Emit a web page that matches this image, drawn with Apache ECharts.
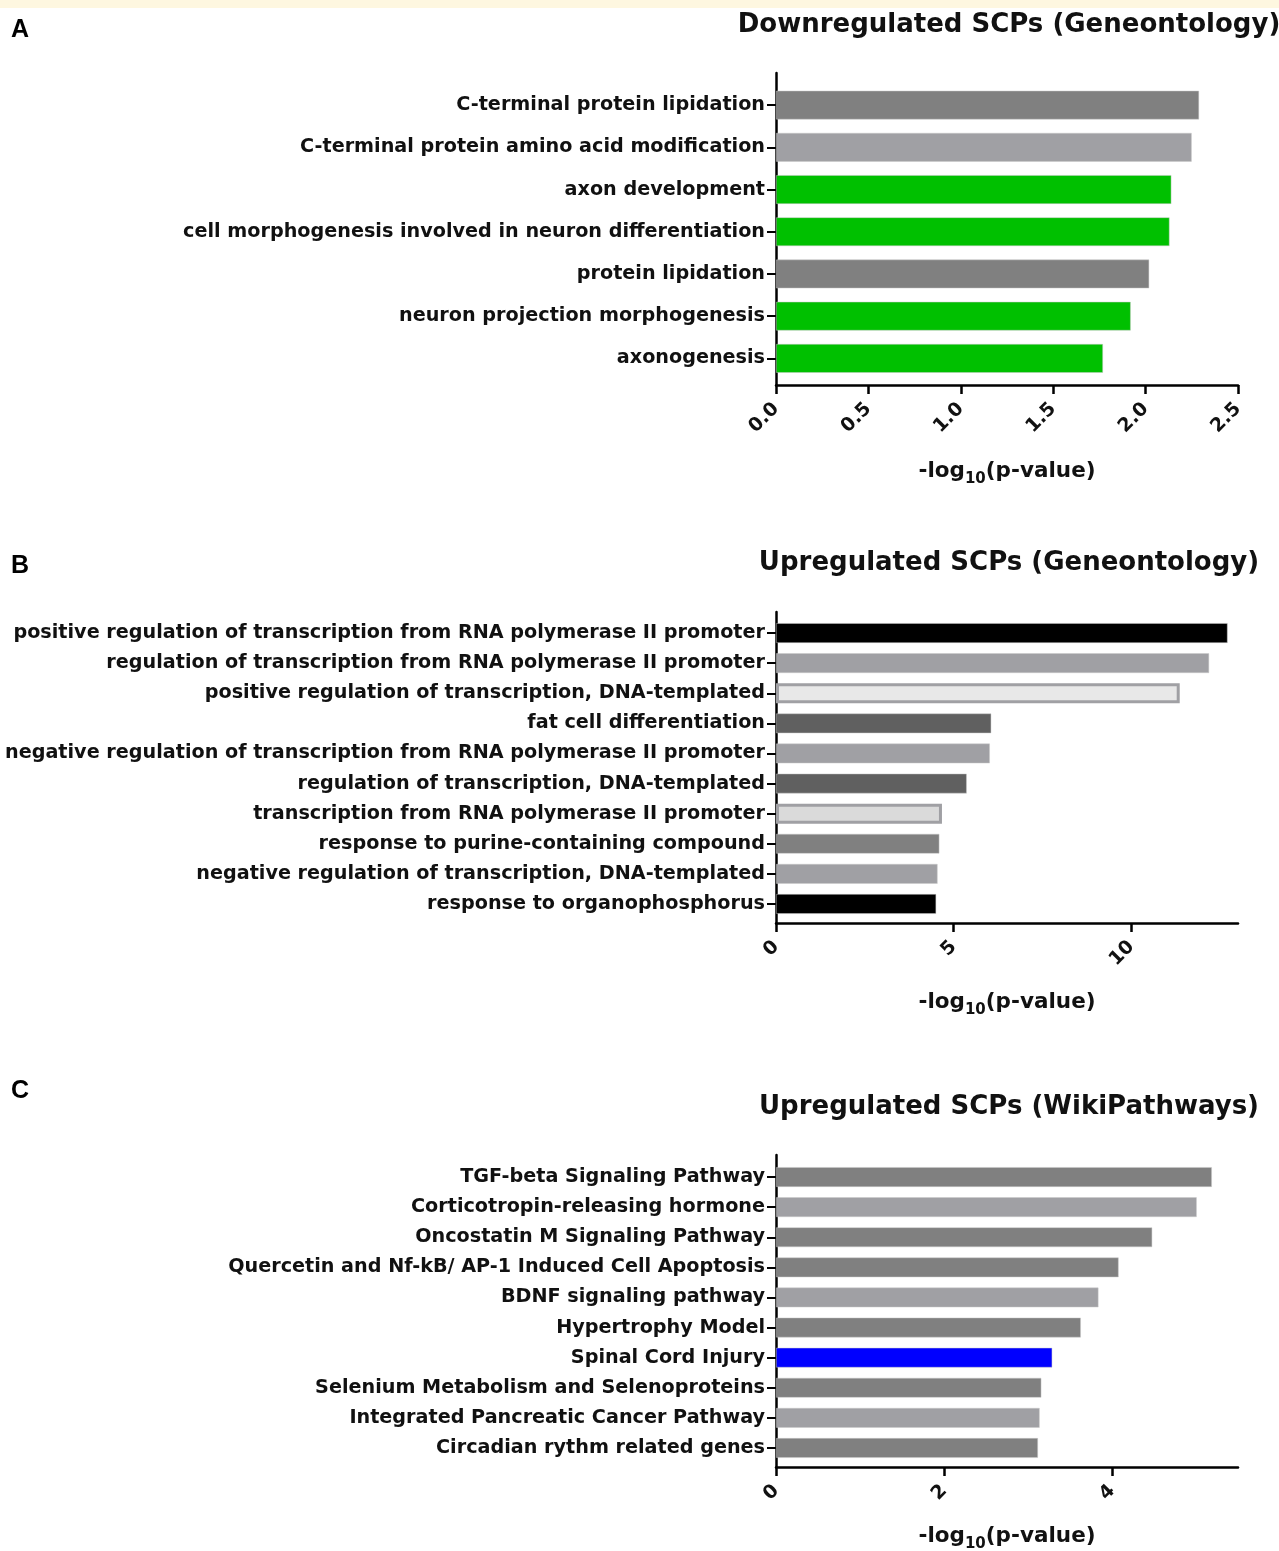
<!DOCTYPE html>
<html>
<head>
<meta charset="utf-8">
<script src="https://cdn.jsdelivr.net/npm/echarts@6/dist/echarts.min.js"></script>
<style>
html,body{margin:0;padding:0;background:#fff;}
#band{position:absolute;left:0;top:0;width:1279px;height:8px;background:#fef7e0;}
#chart{position:absolute;left:0;top:0;width:1279px;height:1551px;}
</style>
</head>
<body>
<div id="chart"></div>
<div id="band"></div>
<script>
// ---------- Data ----------
const catsA = ['C-terminal protein lipidation','C-terminal protein amino acid modification','axon development','cell morphogenesis involved in neuron differentiation','protein lipidation','neuron projection morphogenesis','axonogenesis'];
const valsA = [2.29, 2.25, 2.14, 2.13, 2.02, 1.92, 1.77];
const ticksA = [0, 0.5, 1.0, 1.5, 2.0, 2.5];

const catsB = ['positive regulation of transcription from RNA polymerase II promoter','regulation of transcription from RNA polymerase II promoter','positive regulation of transcription, DNA-templated','fat cell differentiation','negative regulation of transcription from RNA polymerase II promoter','regulation of transcription, DNA-templated','transcription from RNA polymerase II promoter','response to purine-containing compound','negative regulation of transcription, DNA-templated','response to organophosphorus'];
const valsB = [12.71, 12.19, 11.36, 6.06, 6.02, 5.37, 4.67, 4.60, 4.55, 4.51];
const ticksB = [0, 5, 10];

const catsC = ['TGF-beta Signaling Pathway','Corticotropin-releasing hormone','Oncostatin M Signaling Pathway','Quercetin and Nf-kB/ AP-1 Induced Cell Apoptosis','BDNF signaling pathway','Hypertrophy Model','Spinal Cord Injury','Selenium Metabolism and Selenoproteins','Integrated Pancreatic Cancer Pathway','Circadian rythm related genes'];
const valsC = [5.19, 5.01, 4.48, 4.08, 3.84, 3.63, 3.29, 3.16, 3.14, 3.12];
const ticksC = [0, 2, 4];

const titles = ['Downregulated SCPs (Geneontology)','Upregulated SCPs (Geneontology)','Upregulated SCPs (WikiPathways)'];
const panelLetters = ['A','B','C'];

// ---------- Styles ----------
const G1 = '#808080', G2 = '#a0a0a4', GR = '#00c000', BK = '#000000', DG = '#606060', BL = '#0000ff';
const fillA = [G1, G2, GR, GR, G1, GR, GR];
const fillB = [BK, G2, '#e8e8e8', DG, G2, DG, '#dadada', G1, G2, BK];
const borderB = [null, null, G2, null, null, null, G2, null, null, null];
const fillC = [G1, G2, G1, G1, G2, G1, BL, G1, G2, G1];

const CAT_FONT = '"DejaVu Sans", Verdana, sans-serif';
const ARIAL = '"Liberation Sans", Arial, sans-serif';
const AX_LEFT = 776, AX_W = 462;

const panels = [
  {cats: catsA, vals: valsA, ticks: ticksA, max: 2.5, fmt: v => v.toFixed(1), fill: fillA, border: [],
   frameTop: 73, frameBottom: 385, barTop: 84, barH: 295.5, barW: 29, nameGap: 70, titleY: 25, letterY: 30},
  {cats: catsB, vals: valsB, ticks: ticksB, max: 13, fmt: v => String(v), fill: fillB, border: borderB,
   frameTop: 612, frameBottom: 923, barTop: 618, barH: 301, barW: 20, nameGap: 63, titleY: 563, letterY: 566},
  {cats: catsC, vals: valsC, ticks: ticksC, max: 5.5, fmt: v => String(v), fill: fillC, border: [],
   frameTop: 1155, frameBottom: 1467, barTop: 1162, barH: 301, barW: 20, nameGap: 53, titleY: 1107, letterY: 1091}
];

const grid = [], xAxis = [], yAxis = [], series = [], graphic = [];
const nameRich = {
  a: {fontSize: 21.5, fontWeight: 'bold', fontFamily: CAT_FONT, color: '#111', lineHeight: 24, verticalAlign: 'middle'},
  b: {fontSize: 15, fontWeight: 'bold', fontFamily: CAT_FONT, color: '#111', lineHeight: 32, verticalAlign: 'bottom'}
};

panels.forEach((p, i) => {
  const gFrame = grid.length;
  grid.push({left: AX_LEFT, width: AX_W, top: p.frameTop, height: p.frameBottom - p.frameTop, containLabel: false, outerBoundsMode: 'none'});
  const gBar = grid.length;
  grid.push({left: AX_LEFT, width: AX_W, top: p.barTop, height: p.barH, containLabel: false, outerBoundsMode: 'none'});

  xAxis.push({
    gridIndex: gFrame, type: 'value', min: 0, max: p.max,
    axisLine: {show: true, lineStyle: {color: '#000', width: 2.5}},
    axisTick: {show: true, length: 9, lineStyle: {color: '#000', width: 2.5}, customValues: p.ticks},
    axisLabel: {show: true, rotate: 45, margin: 21, fontSize: 19, fontWeight: 'bold', fontFamily: CAT_FONT, color: '#111',
      customValues: p.ticks, formatter: v => p.fmt(v)},
    splitLine: {show: false},
    name: '{a|-log}{b|10}{a|(p-value)}', nameLocation: 'middle', nameGap: p.nameGap,
    nameTextStyle: {rich: nameRich}
  });
  yAxis.push({
    gridIndex: gFrame, type: 'value', min: 0, max: 1,
    axisLine: {show: true, lineStyle: {color: '#000', width: 2.5}},
    axisTick: {show: false}, axisLabel: {show: false}, splitLine: {show: false}
  });
  xAxis.push({
    gridIndex: gBar, type: 'value', min: 0, max: p.max, show: false, splitLine: {show: false}
  });
  yAxis.push({
    gridIndex: gBar, type: 'category', data: p.cats, inverse: true,
    axisLine: {show: false},
    axisTick: {show: true, alignWithLabel: true, length: 9, lineStyle: {color: '#000', width: 2}},
    axisLabel: {show: true, margin: 11, fontSize: 19.2, fontWeight: 'bold', fontFamily: CAT_FONT, color: '#111', interval: 0},
    splitLine: {show: false}
  });
  series.push({
    type: 'bar', xAxisIndex: xAxis.length - 1, yAxisIndex: yAxis.length - 1,
    barWidth: p.barW, silent: true, animation: false,
    data: p.vals.map((v, k) => ({
      value: v,
      itemStyle: p.border[k]
        ? {color: p.fill[k], borderColor: p.border[k], borderWidth: 3}
        : {color: p.fill[k], borderColor: 'rgba(200,200,200,0.6)', borderWidth: 0.8}
    }))
  });
  graphic.push({type: 'text', x: 1009, y: p.titleY, style: {text: titles[i], font: 'bold 26px ' + CAT_FONT, fill: '#111', textAlign: 'center', textVerticalAlign: 'middle'}});
  graphic.push({type: 'text', x: 11, y: p.letterY, style: {text: panelLetters[i], font: 'bold 25px ' + ARIAL, fill: '#000', textAlign: 'left', textVerticalAlign: 'middle'}});
});

const chart = echarts.init(document.getElementById('chart'), null, {renderer: 'canvas'});
chart.setOption({animation: false, backgroundColor: '#fff', grid, xAxis, yAxis, series, graphic});
</script>
</body>
</html>
